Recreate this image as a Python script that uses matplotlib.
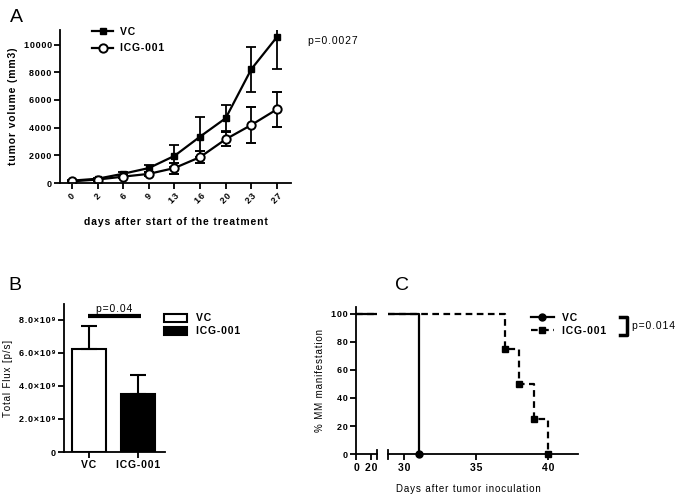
import numpy as np, matplotlib
matplotlib.use('Agg')
import matplotlib.pyplot as plt
from matplotlib.patches import Rectangle
from matplotlib.lines import Line2D

plt.rcParams['font.family'] = ['Liberation Sans', 'DejaVu Sans']

# panel A data
days = ['0', '2', '6', '9', '13', '16', '20', '23', '27']
vc_vol = [170, 310, 670, 1080, 1960, 3350, 4680, 8220, 10540]
vc_err = [60, 80, 150, 250, 770, 1440, 930, 1620, 2340]
icg_vol = [120, 250, 460, 660, 1080, 1870, 3160, 4190, 5320]
icg_err = [50, 70, 100, 150, 400, 420, 510, 1310, 1250]
a_yticks = [0, 2000, 4000, 6000, 8000, 10000]

# panel B data
groups = ['VC', 'ICG-001']
flux = [6.22e9, 3.49e9]
flux_err = [1.38e9, 1.15e9]
b_yticks = [0, 2e9, 4e9, 6e9, 8e9]
b_ylabels = ['0', '2.0×10⁹', '4.0×10⁹', '6.0×10⁹', '8.0×10⁹']

# panel C data
vc_days = [0, 31, 31]
vc_pct = [100, 100, 0]
icg_days = [0, 37, 37, 38, 38, 39, 39, 40, 40]
icg_pct = [100, 100, 75, 75, 50, 50, 25, 25, 0]
vc_evt_x, vc_evt_y = [31], [0]
icg_evt_x, icg_evt_y = [37, 38, 39, 40], [75, 50, 25, 0]

W, H = 683, 497
fig = plt.figure(figsize=(W/100, H/100), dpi=100)

def sp(s):
    # wide letter spacing like the original figure
    return '\u200a'.join(s)

def rect(x0, y0, x1, y1):
    return [x0/W, 1 - y1/H, (x1 - x0)/W, (y1 - y0)/H]

def style(ax):
    for s in ['top', 'right']:
        ax.spines[s].set_visible(False)
    for s in ['left', 'bottom']:
        ax.spines[s].set_linewidth(1.3)
    ax.tick_params(width=1.3, length=4, labelsize=6.5, pad=2)
    for lab in ax.get_xticklabels() + ax.get_yticklabels():
        lab.set_fontweight('bold')

lw = 1.6
bold = {'weight': 'bold', 'size': 7.5}

# ---------- A ----------
axA = fig.add_axes(rect(60, 30, 291, 183))
x = np.arange(len(days))
axA.errorbar(x, vc_vol, yerr=vc_err, color='black', lw=lw, marker='s', ms=5,
             capsize=3.5, capthick=1.3, elinewidth=1.3)
axA.errorbar(x, icg_vol, yerr=icg_err, color='black', lw=lw, marker='o', ms=6,
             mfc='white', mew=1.4, capsize=3.5, capthick=1.3, elinewidth=1.3)
axA.set_xlim(-0.47, 8.55)
axA.set_ylim(0, 11050)
axA.set_xticks(x)
axA.set_xticklabels([sp(d) for d in days], rotation=45, ha='center')
axA.set_yticks(a_yticks)
axA.set_yticklabels([sp(str(v)) for v in a_yticks])
style(axA)
axA.set_ylabel(sp('tumor volume (mm3)'), fontsize=7.5, fontweight='bold', labelpad=4)
axA.set_xlabel(sp('days after start of the treatment'), fontsize=7.5, fontweight='bold', labelpad=8)
handlesA = [Line2D([], [], color='black', lw=lw, marker='s', ms=5),
            Line2D([], [], color='black', lw=lw, marker='o', ms=6, mfc='white', mew=1.4)]
axA.legend(handlesA, [sp('VC'), sp('ICG-001')], loc='upper left', bbox_to_anchor=(0.1, 1.08),
           frameon=False, prop=bold, handlelength=2, handletextpad=0.6, labelspacing=0.6)
fig.text(308/W, 1 - 41/H, sp('p=0.0027'), fontsize=7.5, va='center')
fig.text(10/W, 1 - 17/H, 'A', fontsize=14, va='center')

# ---------- B ----------
axB = fig.add_axes(rect(64, 304, 165, 452))
xb = np.arange(len(groups))
axB.bar(xb, flux, width=0.69, color=['white', 'black'], edgecolor='black', lw=1.5,
        yerr=[[0, 0], flux_err], error_kw=dict(ecolor='black', elinewidth=1.5, capsize=6, capthick=1.5))
axB.set_xlim(-0.51, 1.55)
axB.set_ylim(0, 8.95e9)
axB.set_xticks(xb)
axB.set_xticklabels([sp(g) for g in groups])
axB.set_yticks(b_yticks)
axB.set_yticklabels([sp(t) for t in b_ylabels])
style(axB)
axB.tick_params(axis='x', labelsize=7.5)
axB.tick_params(axis='y', labelsize=6.5)
axB.set_ylabel(sp('Total Flux [p/s]'), fontsize=7, labelpad=4)
axB.plot([-0.03, 1.06], [8.2e9, 8.2e9], color='black', lw=3, solid_capstyle='butt')
axB.text(0.52, 8.35e9, sp('p=0.04'), ha='center', va='bottom', fontsize=7.5)
handlesB = [Rectangle((0, 0), 1, 1, fc='white', ec='black', lw=1.5),
            Rectangle((0, 0), 1, 1, fc='black', ec='black', lw=1.5)]
axB.legend(handlesB, [sp(g) for g in groups], loc='upper left', bbox_to_anchor=(0.9, 1.0), frameon=False,
           prop=bold, handlelength=2.2, handleheight=0.8, labelspacing=0.3)
fig.text(8/W, 1 - 285/H, 'B', fontsize=14, va='center')

# ---------- C ----------
axC1 = fig.add_axes(rect(356, 306.5, 377.3, 454.3))
axC2 = fig.add_axes(rect(388.3, 306.5, 578.3, 454.3))
for ax in (axC1, axC2):
    ax.plot(vc_days, vc_pct, color='black', lw=lw)
    ax.plot(icg_days, icg_pct, color='black', lw=lw, ls=(0, (3, 2)))
    ax.set_ylim(0, 105)
axC2.plot(vc_evt_x, vc_evt_y, 'o', color='black', ms=5, clip_on=False)
axC2.plot(icg_evt_x, icg_evt_y, 's', color='black', ms=5, clip_on=False)
axC1.set_xlim(0, 29)
axC2.set_xlim(28.9, 42.1)
axC1.set_xticks([0, 20])
axC1.set_xticklabels(['0', sp('20')])
axC2.set_xticks([30, 35, 40])
axC2.set_xticklabels([sp(t) for t in ['30', '35', '40']])
axC1.set_yticks([0, 20, 40, 60, 80, 100])
axC1.set_yticklabels([sp(str(v)) for v in [0, 20, 40, 60, 80, 100]])
style(axC1)
style(axC2)
axC1.tick_params(axis='x', labelsize=7.5)
axC2.tick_params(axis='x', labelsize=7.5)
axC2.spines['left'].set_visible(False)
axC2.tick_params(axis='y', left=False, labelleft=False)
axC1.set_ylabel(sp('% MM manifestation'), fontsize=7, labelpad=4)
axC2.set_xlabel(sp('Days after tumor inoculation'), fontsize=7, labelpad=5)
axC2.xaxis.set_label_coords(0.42, -0.2)
# break marks
for xb_ in (377.3, 388.3):
    fig.add_artist(Line2D([xb_/W, xb_/W], [1 - 450/H, 1 - 459/H], color='black', lw=1.3))
handlesC = [Line2D([], [], color='black', lw=lw, marker='o', ms=5),
            Line2D([], [], color='black', lw=lw, ls=(0, (3, 2)), marker='s', ms=5)]
axC2.legend(handlesC, [sp('VC'), sp('ICG-001')], loc='upper left', bbox_to_anchor=(0.7, 1.02),
            frameon=False, prop=bold, handlelength=2.2, labelspacing=0.3)
# bracket
bx0, bx1, by0, by1 = 620/W, 627/W, 1 - 317/H, 1 - 335/H
fig.add_artist(Line2D([bx0, bx1, bx1, bx0], [by0, by0, by1, by1], color='black', lw=2.5))
fig.text(632/W, 1 - 326/H, sp('p=0.014'), fontsize=7.5, va='center')
fig.text(395/W, 1 - 285/H, 'C', fontsize=14, va='center')

fig.savefig('out.png', dpi=100)
